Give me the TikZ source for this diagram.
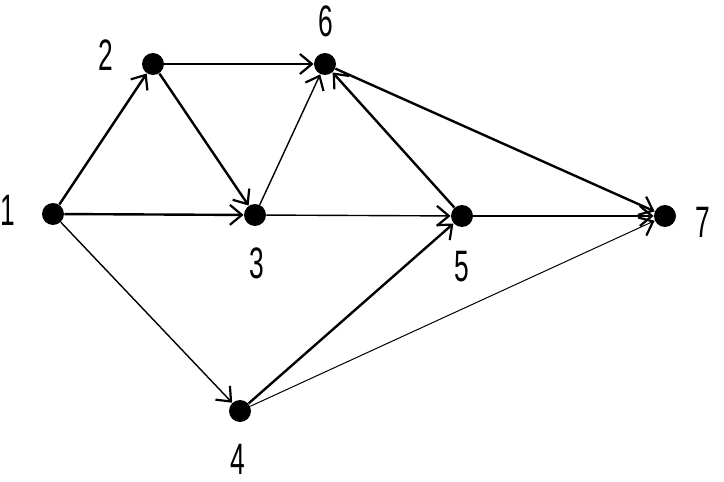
\documentclass[tikz,border=0pt]{standalone}
\usepackage{fontspec}
\setmainfont{Liberation Sans}
\usetikzlibrary{arrows.meta}
\newcommand{\narrow}[1]{\scalebox{0.6}[1]{#1}}

\begin{document}
\begin{tikzpicture}[x=0.5pt,y=-0.5pt,
 dot/.style={circle,fill=black,inner sep=0pt,minimum size=11pt},
 lbl/.style={font=\fontsize{22}{22}\selectfont,inner sep=0pt},
 arr/.style={-{Straight Barb[length=6pt,width=10pt,line width=1.1pt]},line width=1.2pt},
 thinarr/.style={arr,line width=0.7pt}]
\useasboundingbox (0,0) rectangle (724,482);
\node[dot] (n1) at (53,214) {};
\node[dot] (n2) at (153,64) {};
\node[dot] (n3) at (255,215) {};
\node[dot] (n4) at (240,411) {};
\node[dot] (n5) at (462,216) {};
\node[dot] (n6) at (325,64) {};
\node[dot] (n7) at (665,216) {};
\node[lbl] (l1) at (8,210) {\narrow{1}};
\node[lbl] (l2) at (106,55) {\narrow{2}};
\node[lbl] (l3) at (257,263) {\narrow{3}};
\node[lbl] (l4) at (238,459) {\narrow{4}};
\node[lbl] (l5) at (462,267) {\narrow{5}};
\node[lbl] (l6) at (326,21) {\narrow{6}};
\node[lbl] (l7) at (703,222) {\narrow{7}};
\draw[arr] (n1) -- (n2);
\draw[arr] (n1) -- (n3);
\draw[thinarr] (n1) -- (n4);
\draw[arr] (n2) -- (n6);
\draw[arr] (n2) -- (n3);
\draw[thinarr] (n3) -- (n6);
\draw[thinarr] (n3) -- (n5);
\draw[arr] (n5) -- (n6);
\draw[arr] (n6) -- (n7);
\draw[thinarr] (n5) -- (n7);
\draw[arr] (n4) -- (n5);
\draw[thinarr,line width=0.5pt] (n4) -- (n7);
\end{tikzpicture}
\end{document}
